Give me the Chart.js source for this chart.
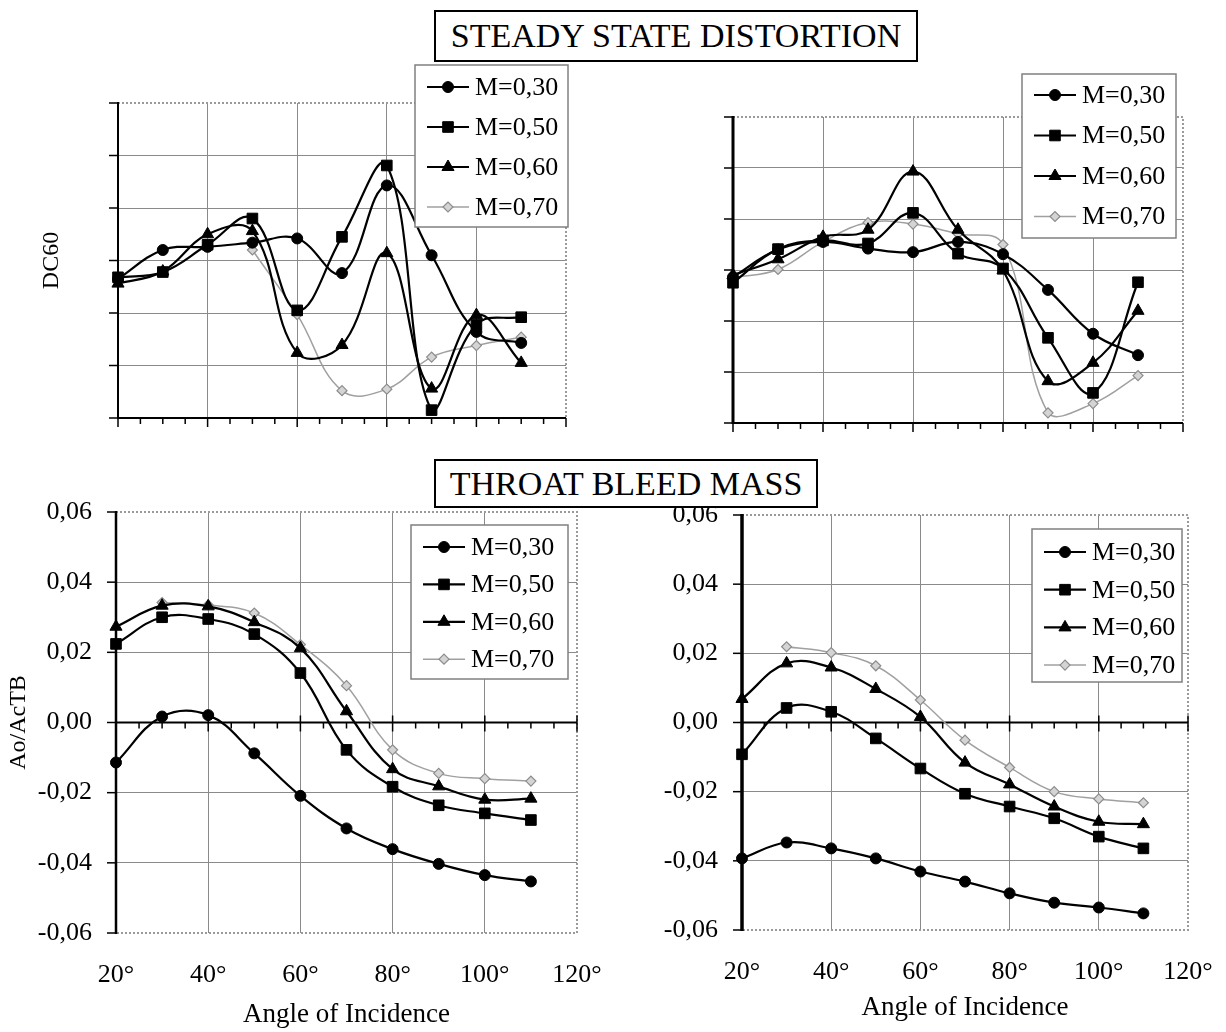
<!DOCTYPE html>
<html>
<head>
<meta charset="utf-8">
<title>Steady state distortion / throat bleed mass</title>
<script src="https://cdn.jsdelivr.net/npm/chart.js@4.4.1/dist/chart.umd.min.js"></script>
<style>
  body { margin: 0; background: #fff; }
  #page { position: relative; width: 1226px; height: 1032px; overflow: hidden; background: #fff; }
  #page canvas { position: absolute; }
  .heading { position: absolute; box-sizing: border-box; border: 2px solid #000; background: #fff;
             font-family: "Liberation Serif", "Times New Roman", serif; font-size: 34px; color: #000;
             text-align: center; z-index: 2; white-space: nowrap; }
</style>
</head>
<body>
<div id="page">
  <canvas id="dcLeft"></canvas>
  <canvas id="dcRight"></canvas>
  <canvas id="bleedLeft"></canvas>
  <canvas id="bleedRight"></canvas>
  <div class="heading" style="left:434px;top:10px;width:484px;height:52px;line-height:48px">STEADY STATE DISTORTION</div>
  <div class="heading" style="left:434px;top:459px;width:384px;height:49px;line-height:45px">THROAT BLEED MASS</div>
</div>
<script>
const angles = [20, 30, 40, 50, 60, 70, 80, 90, 100, 110];
const machLabels = ['M=0,30', 'M=0,50', 'M=0,60', 'M=0,70'];
const angleTicks = [20, 40, 60, 80, 100, 120];
const dcTicks = [0, 1, 2, 3, 4, 5, 6];            // DC60 has no printed scale
const bleedTicks = [-0.06, -0.04, -0.02, 0, 0.02, 0.04, 0.06];

// steady state distortion (DC60, grid units)
const dcLeft30 = [2.65, 3.20, 3.26, 3.34, 3.42, 2.76, 4.43, 3.10, 1.64, 1.43];
const dcLeft50 = [2.68, 2.78, 3.30, 3.80, 2.05, 3.45, 4.81, 0.15, 1.78, 1.92];
const dcLeft60 = [2.56, 2.79, 3.50, 3.56, 1.24, 1.39, 3.14, 0.56, 1.96, 1.05];
const dcLeft70 = [null, null, null, 3.20, 1.97, 0.52, 0.55, 1.16, 1.38, 1.54];

const dcRight30 = [2.86, 3.40, 3.55, 3.42, 3.35, 3.55, 3.31, 2.61, 1.75, 1.33];
const dcRight50 = [2.75, 3.41, 3.58, 3.52, 4.12, 3.32, 3.03, 1.67, 0.59, 2.76];
const dcRight60 = [2.90, 3.21, 3.65, 3.79, 4.93, 3.79, 2.99, 0.82, 1.18, 2.20];
const dcRight70 = [2.85, 3.01, 3.55, 3.93, 3.90, 3.71, 3.50, 0.20, 0.38, 0.93];

// throat bleed mass (Ao/AcTB)
const bleedLeft30 = [-0.0114, 0.0017, 0.0021, -0.0088, -0.0209, -0.0302, -0.0361, -0.0403, -0.0435, -0.0453];
const bleedLeft50 = [0.0224, 0.0300, 0.0295, 0.0252, 0.0141, -0.0078, -0.0183, -0.0236, -0.0259, -0.0278];
const bleedLeft60 = [0.0273, 0.0333, 0.0331, 0.0286, 0.0212, 0.0032, -0.0133, -0.0182, -0.0220, -0.0217];
const bleedLeft70 = [null, 0.0342, 0.0335, 0.0312, 0.0222, 0.0105, -0.0078, -0.0145, -0.0160, -0.0167];

const bleedRight30 = [-0.0393, -0.0347, -0.0364, -0.0393, -0.0431, -0.0460, -0.0494, -0.0521, -0.0535, -0.0552];
const bleedRight50 = [-0.0092, 0.0042, 0.0031, -0.0046, -0.0133, -0.0206, -0.0243, -0.0277, -0.0330, -0.0364];
const bleedRight60 = [0.0068, 0.0171, 0.0159, 0.0097, 0.0016, -0.0116, -0.0179, -0.0243, -0.0287, -0.0294];
const bleedRight70 = [null, 0.0219, 0.0202, 0.0164, 0.0065, -0.0051, -0.0130, -0.0200, -0.0221, -0.0232];

const serif = '"Liberation Serif", "Times New Roman", serif';
const tickFont = { family: serif, size: 26 };
const titleFont = { family: serif, size: 27 };

const seriesLook = [
    { pointStyle: 'circle', pointRadius: 5.5, borderColor: '#000', borderWidth: 2.2,
      pointBackgroundColor: '#000', pointBorderColor: '#000', pointBorderWidth: 1 },
    { pointStyle: 'rect', pointRadius: 7.5, borderColor: '#000', borderWidth: 2.2,
      pointBackgroundColor: '#000', pointBorderColor: '#000', pointBorderWidth: 1 },
    { pointStyle: 'triangle', pointRadius: 7, borderColor: '#000', borderWidth: 2.2,
      pointBackgroundColor: '#000', pointBorderColor: '#000', pointBorderWidth: 1 },
    { pointStyle: 'rectRot', pointRadius: 5, borderColor: '#a0a0a0', borderWidth: 1.5,
      pointBackgroundColor: '#d4d4d4', pointBorderColor: '#8c8c8c', pointBorderWidth: 1.2 }
];

function strokeLine(ctx, x1, y1, x2, y2) {
    ctx.beginPath();
    ctx.moveTo(x1, y1);
    ctx.lineTo(x2, y2);
    ctx.stroke();
}

// excel-like plot frame: grey border, black value axis, category axis crossing at 0
const framePlugin = {
    id: 'frame',
    beforeDatasetsDraw(chart, args, opts) {
        const { ctx, chartArea: a, scales: { x, y } } = chart;
        ctx.save();
        ctx.strokeStyle = '#9a9a9a';
        ctx.lineWidth = 2;
        ctx.setLineDash([2, 2]);
        ctx.beginPath();
        ctx.moveTo(a.left, a.top);
        ctx.lineTo(a.right, a.top);
        ctx.lineTo(a.right, a.bottom);
        ctx.lineTo(a.left, a.bottom);
        ctx.stroke();
        ctx.setLineDash([]);

        ctx.strokeStyle = '#000';
        ctx.lineWidth = opts.axisWidth;
        strokeLine(ctx, a.left, a.top - 1, a.left, a.bottom + 1);
        ctx.lineWidth = 1.5;
        y.ticks.forEach(t => {
            const py = y.getPixelForValue(t.value);
            strokeLine(ctx, a.left - 9, py, a.left, py);
        });

        const cy = y.getPixelForValue(0);
        ctx.lineWidth = 2;
        strokeLine(ctx, a.left, cy, a.right, cy);
        ctx.lineWidth = 1.5;
        for (let ang = x.min; ang <= x.max; ang += 5) {
            const px = x.getPixelForValue(ang);
            const major = ang % 20 === 0;
            strokeLine(ctx, px, cy - (major && opts.crossTicks ? 7 : 0), px, cy + (major ? 9 : 6));
        }
        ctx.restore();
    }
};

// boxed legend sitting on top of the plot area
const legendPlugin = {
    id: 'boxLegend',
    afterDraw(chart, args, opts) {
        const ctx = chart.ctx;
        const { x, y, w, h, first, step } = opts;
        ctx.save();
        ctx.fillStyle = '#fff';
        ctx.fillRect(x, y, w, h);
        ctx.strokeStyle = '#808080';
        ctx.lineWidth = 1.5;
        ctx.strokeRect(x, y, w, h);
        chart.data.datasets.forEach((ds, i) => {
            const cy = y + first + i * step;
            ctx.strokeStyle = ds.borderColor;
            ctx.lineWidth = ds.borderWidth;
            strokeLine(ctx, x + 12, cy, x + 54, cy);
            ctx.fillStyle = ds.pointBackgroundColor;
            ctx.strokeStyle = ds.pointBorderColor;
            ctx.lineWidth = ds.pointBorderWidth;
            Chart.helpers.drawPoint(ctx, { pointStyle: ds.pointStyle, radius: ds.pointRadius, rotation: 0,
                                            borderWidth: ds.pointBorderWidth }, x + 33, cy);
            ctx.fillStyle = '#000';
            ctx.font = `26px ${serif}`;
            ctx.textBaseline = 'middle';
            ctx.fillText(ds.label, x + 60, cy + 1);
        });
        ctx.restore();
    }
};

function fmtComma(v) {
    return (Math.abs(v) < 1e-9 ? 0 : v).toFixed(2).replace('.', ',');
}

function makePanel(spec) {
    const canvas = document.getElementById(spec.id);
    const b = spec.box, a = spec.area, lg = spec.legend;
    canvas.width = b.w;
    canvas.height = b.h;
    canvas.style.left = b.x + 'px';
    canvas.style.top = b.y + 'px';
    const yTicks = spec.yTicks;
    const edgeless = c => (c.tick && (c.tick.value === c.scale.min || c.tick.value === c.scale.max)) ? 'rgba(0,0,0,0)' : '#8a8a8a';

    return new Chart(canvas.getContext('2d'), {
        type: 'line',
        data: {
            datasets: spec.series.map((vals, i) => Object.assign({
                label: machLabels[i],
                data: angles.map((ang, k) => ({ x: ang, y: vals[k] })),
                fill: false,
                tension: 0.4,
                clip: false,
                spanGaps: false
            }, seriesLook[i]))
        },
        options: {
            responsive: false,
            animation: false,
            events: [],
            layout: { padding: { left: 0, top: a.top - b.y, right: b.x + b.w - a.right, bottom: 0 } },
            plugins: {
                legend: { display: false },
                tooltip: { enabled: false },
                frame: { axisWidth: spec.axisWidth, crossTicks: spec.labels },
                boxLegend: { x: lg.x - b.x, y: lg.y - b.y, w: lg.w, h: lg.h, first: lg.first, step: lg.step }
            },
            scales: {
                x: {
                    type: 'linear',
                    min: angleTicks[0],
                    max: angleTicks[angleTicks.length - 1],
                    afterBuildTicks: s => { s.ticks = angleTicks.map(v => ({ value: v })); },
                    afterFit: s => {
                        s.height = b.y + b.h - a.bottom;
                        s.paddingLeft = 0;
                        s.paddingRight = 0;
                    },
                    grid: { color: edgeless, lineWidth: 1, drawTicks: false },
                    border: { display: false },
                    ticks: { display: spec.labels, padding: 27, color: '#000', font: tickFont,
                             maxRotation: 0, autoSkip: false, callback: v => v + '°' },
                    title: { display: spec.labels, text: 'Angle of Incidence', color: '#000', font: titleFont,
                             padding: { top: 0, bottom: spec.xTitlePad || 0 } }
                },
                y: {
                    type: 'linear',
                    min: yTicks[0],
                    max: yTicks[yTicks.length - 1],
                    afterBuildTicks: s => { s.ticks = yTicks.map(v => ({ value: v })); },
                    afterFit: s => {
                        s.width = a.left - b.x;
                        s.paddingTop = 0;
                        s.paddingBottom = 0;
                    },
                    grid: { color: edgeless, lineWidth: 1, drawTicks: false },
                    border: { display: false },
                    ticks: { display: spec.labels, padding: 24, color: '#000', font: tickFont,
                             callback: v => fmtComma(v) },
                    title: { display: !!spec.yTitle, text: spec.yTitle || '', color: '#000',
                             font: { family: serif, size: 24 }, padding: { top: spec.yTitlePad || 0, bottom: 0 } }
                }
            }
        },
        plugins: [framePlugin, legendPlugin]
    });
}

document.addEventListener('DOMContentLoaded', () => {
    makePanel({
        id: 'dcLeft',
        box: { x: 0, y: 60, w: 610, h: 380 },
        area: { left: 118, top: 103, right: 566, bottom: 418 },
        series: [dcLeft30, dcLeft50, dcLeft60, dcLeft70],
        yTicks: dcTicks, labels: false, axisWidth: 2,
        yTitle: 'DC60', yTitlePad: 37,
        legend: { x: 415, y: 65, w: 153, h: 162, first: 22, step: 40 }
    });
    makePanel({
        id: 'dcRight',
        box: { x: 610, y: 60, w: 616, h: 380 },
        area: { left: 733, top: 117, right: 1183, bottom: 423 },
        series: [dcRight30, dcRight50, dcRight60, dcRight70],
        yTicks: dcTicks, labels: false, axisWidth: 3,
        legend: { x: 1022, y: 74, w: 154, h: 164, first: 21, step: 40.5 }
    });
    makePanel({
        id: 'bleedLeft',
        box: { x: 0, y: 490, w: 610, h: 542 },
        area: { left: 116, top: 512, right: 577, bottom: 933 },
        series: [bleedLeft30, bleedLeft50, bleedLeft60, bleedLeft70],
        yTicks: bleedTicks, labels: true, axisWidth: 2.5,
        yTitle: 'Ao/AcTB', yTitlePad: 4, xTitlePad: 1,
        legend: { x: 411, y: 525, w: 157, h: 154, first: 22, step: 37.4 }
    });
    makePanel({
        id: 'bleedRight',
        box: { x: 610, y: 490, w: 616, h: 542 },
        area: { left: 742, top: 515, right: 1188, bottom: 930 },
        series: [bleedRight30, bleedRight50, bleedRight60, bleedRight70],
        yTicks: bleedTicks, labels: true, axisWidth: 3.5,
        xTitlePad: 8,
        legend: { x: 1032, y: 529, w: 150, h: 153, first: 23, step: 37.7 }
    });
});
</script>
</body>
</html>
